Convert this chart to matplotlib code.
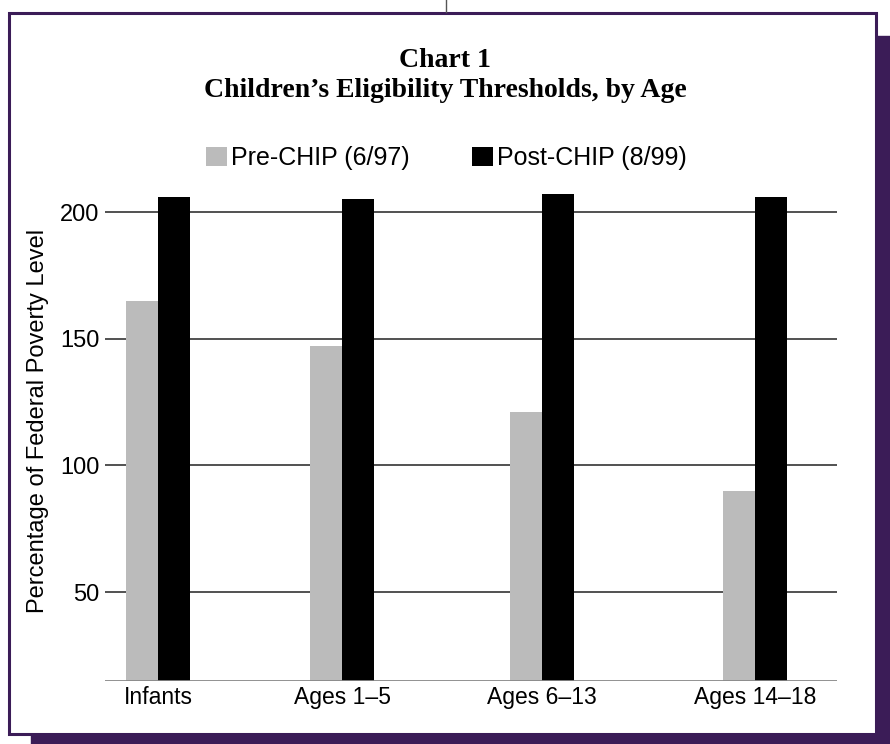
#!/usr/bin/env python

import numpy as np
import matplotlib.pyplot as plt
from matplotlib.patches import Rectangle
from matplotlib.lines import Line2D

# data
categories = ['Infants', 'Ages 1\u20135', 'Ages 6\u201313', 'Ages 14\u201318']
pre_chip = [165, 147, 121, 90]
post_chip = [206, 205, 207, 206]
series_names = ['Pre-CHIP (6/97)', 'Post-CHIP (8/99)']
y_ticks = [50, 100, 150, 200]

# group centres are not evenly spaced in the original
x_pos = np.array([0.0, 0.925, 1.93, 3.0])
bar_w = 0.161

W, H = 890, 744
purple = '#3b1c57'

fig = plt.figure(figsize=(W / 100, H / 100), dpi=100)

# frame with drop shadow
fig.patches.append(Rectangle((876 / W, 0), 14 / W, 1 - 36 / H,
                             transform=fig.transFigure, color=purple, zorder=0))
fig.patches.append(Rectangle((31 / W, 0), 1 - 31 / W, 9 / H,
                             transform=fig.transFigure, color=purple, zorder=0))
fig.patches.append(Rectangle((9 / W, 1 - 734 / H), 867 / W, 721 / H,
                             transform=fig.transFigure, facecolor='white',
                             edgecolor=purple, lw=2.2, zorder=1))
fig.lines.append(Line2D([445.5 / W, 445.5 / W], [1 - 12 / H, 1],
                        transform=fig.transFigure, color='#555555', lw=1))

ax = fig.add_axes([105 / W, 1 - 680.7 / H, 732 / W, 494 / H])
ax.set_zorder(2)
ax.patch.set_alpha(0)

b1 = ax.bar(x_pos - bar_w / 2, pre_chip, bar_w, bottom=0, color='#bbbbbb',
            zorder=3)
b2 = ax.bar(x_pos + bar_w / 2, post_chip, bar_w, bottom=0, color='black',
            zorder=3)

ax.set_ylim(15, 210)
ax.set_xlim(-0.266, 3.412)
ax.set_yticks(y_ticks)
ax.set_xticks(x_pos)
ax.set_xticklabels(categories)
for v in y_ticks:
    ax.axhline(v, color='#333333', lw=1.2, zorder=1)
ax.axhline(15, color='#888888', lw=2, zorder=4)

for s in ax.spines.values():
    s.set_visible(False)
ax.tick_params(length=0)
ax.tick_params(axis='y', pad=4, labelsize=17)
ax.tick_params(axis='x', pad=4, labelsize=16.5)
for lab in ax.get_xticklabels() + ax.get_yticklabels():
    lab.set_family('Liberation Sans')

fig.text(38 / W, 1 - 421 / H, 'Percentage of Federal Poverty Level',
         rotation=90, ha='center', va='center', fontsize=17,
         family='Liberation Sans')

fig.text(445 / W, 1 - 67 / H, 'Chart 1', ha='center', va='baseline',
         fontsize=20, fontweight='bold', family='Liberation Serif')
fig.text(445 / W, 1 - 97 / H, 'Children\u2019s Eligibility Thresholds, by Age',
         ha='center', va='baseline', fontsize=20, fontweight='bold',
         family='Liberation Serif')

leg = fig.legend([b1, b2], series_names, ncol=2, loc='center',
                 bbox_to_anchor=(446 / W, 1 - 158 / H), frameon=False,
                 prop={'family': 'Liberation Sans', 'size': 18},
                 handlelength=0.85, handleheight=0.8, handletextpad=0.15,
                 columnspacing=2.5, borderpad=0)

plt.savefig('out.png', dpi=100)
